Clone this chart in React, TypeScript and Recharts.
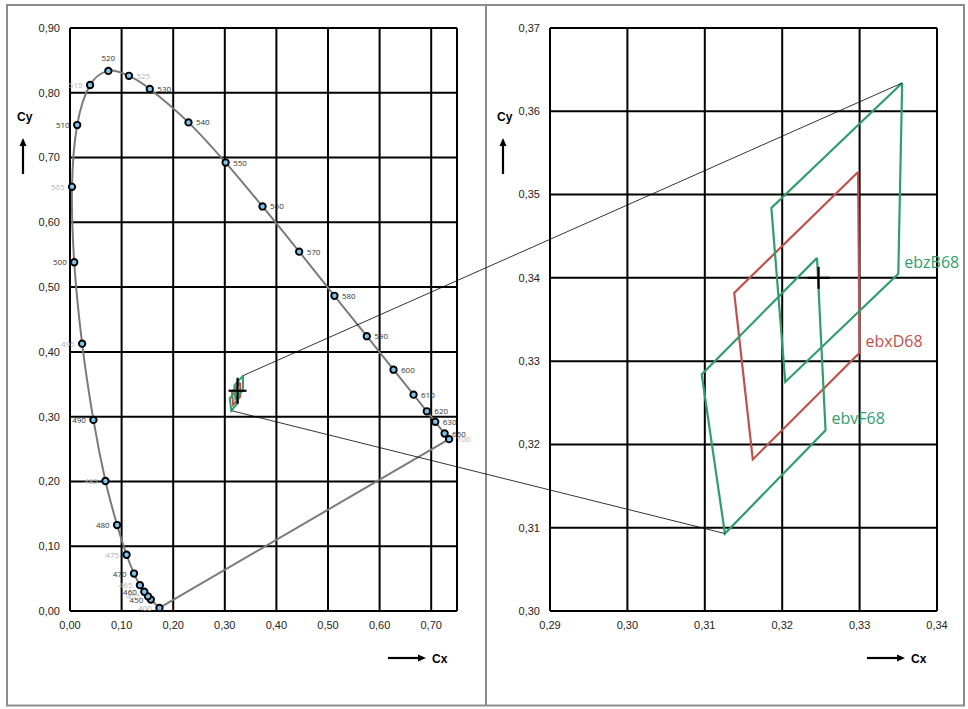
import React, { useState, useLayoutEffect, useCallback } from 'react';
import { ComposedChart, Line, Scatter, XAxis, YAxis, CartesianGrid } from 'recharts';

// ---------- DATA ----------
const wavelengths = [400, 450, 455, 460, 465, 470, 475, 480, 485, 490, 495, 500, 505, 510, 515, 520, 525, 530, 540, 550, 560, 570, 580, 590, 600, 610, 620, 630, 650, 700];
const locusX = [0.1733, 0.1566, 0.151, 0.144, 0.1355, 0.1241, 0.1096, 0.0913, 0.0687, 0.0454, 0.0235, 0.0082, 0.0039, 0.0139, 0.0389, 0.0743, 0.1142, 0.1547, 0.2296, 0.3016, 0.3731, 0.4441, 0.5125, 0.5752, 0.627, 0.6658, 0.6915, 0.7079, 0.726, 0.7347];
const locusY = [0.0048, 0.0177, 0.0227, 0.0297, 0.0399, 0.0578, 0.0868, 0.1327, 0.2007, 0.295, 0.4127, 0.5384, 0.6548, 0.7502, 0.812, 0.8338, 0.8262, 0.8059, 0.7543, 0.6923, 0.6245, 0.5547, 0.4866, 0.4242, 0.3725, 0.334, 0.3083, 0.292, 0.274, 0.2653];

const leftXTicks = [0, 0.1, 0.2, 0.3, 0.4, 0.5, 0.6, 0.7];
const leftYTicks = [0, 0.1, 0.2, 0.3, 0.4, 0.5, 0.6, 0.7, 0.8, 0.9];
const rightXTicks = [0.29, 0.3, 0.31, 0.32, 0.33, 0.34];
const rightYTicks = [0.3, 0.31, 0.32, 0.33, 0.34, 0.35, 0.36, 0.37];

const ebzB68X = [0.3355, 0.3186, 0.3204, 0.335];
const ebzB68Y = [0.3634, 0.3484, 0.3275, 0.3405];
const ebxD68X = [0.3298, 0.3138, 0.3162, 0.33];
const ebxD68Y = [0.3527, 0.3382, 0.3182, 0.331];
const ebvF68X = [0.3245, 0.3096, 0.3126, 0.3256];
const ebvF68Y = [0.3424, 0.3284, 0.3093, 0.3217];

const crossX = [0.3247];
const crossY = [0.34];

// ---------- derived tables ----------
const locusData = wavelengths.map((wl, i) => ({ wl, x: locusX[i], y: locusY[i] }));
const purpleLine = [locusData[locusData.length - 1], locusData[0]];

const makePoly = (xs: number[], ys: number[]) => {
  const pts = xs.map((x, i) => ({ x, y: ys[i] }));
  return [...pts, pts[0]];
};
const polygons = [
  { name: 'ebxD68', color: '#c0504d', data: makePoly(ebxD68X, ebxD68Y) },
  { name: 'ebzB68', color: '#2f9e6e', data: makePoly(ebzB68X, ebzB68Y) },
  { name: 'ebvF68', color: '#2f9e6e', data: makePoly(ebvF68X, ebvF68Y) },
];
const polyLabels = polygons.map((p) => ({ x: p.data[3].x, y: p.data[3].y, name: p.name, color: p.color }));
const crossData = crossX.map((x, i) => ({ x, y: crossY[i] }));
const anchorData = [
  { id: 0, x: ebzB68X[0], y: ebzB68Y[0] },
  { id: 1, x: ebvF68X[2], y: ebvF68Y[2] },
];

const fmt = (v: number) => v.toFixed(2).replace('.', ',');

// Excel-like smoothed line (uniform Catmull-Rom as cubic Beziers)
function smoothCurve(context: any) {
  let pts: [number, number][] = [];
  return {
    areaStart() {},
    areaEnd() {},
    lineStart() {
      pts = [];
    },
    lineEnd() {
      const n = pts.length;
      if (!n) return;
      context.moveTo(pts[0][0], pts[0][1]);
      const t = 1 / 6;
      for (let i = 0; i < n - 1; i++) {
        const p0 = pts[Math.max(i - 1, 0)];
        const p1 = pts[i];
        const p2 = pts[i + 1];
        const p3 = pts[Math.min(i + 2, n - 1)];
        context.bezierCurveTo(
          p1[0] + (p2[0] - p0[0]) * t,
          p1[1] + (p2[1] - p0[1]) * t,
          p2[0] - (p3[0] - p1[0]) * t,
          p2[1] - (p3[1] - p1[1]) * t,
          p2[0],
          p2[1]
        );
      }
    },
    point(x: number, y: number) {
      pts.push([x, y]);
    },
  };
}

const FONT = '"Liberation Sans", Arial, sans-serif';
const LABEL_FONT = '"Open Sans", "Noto Sans", sans-serif';

function LocusMarker(props: any) {
  const { cx, cy, payload } = props;
  if (cx == null || cy == null) return <g />;
  const wl = payload.wl;
  const gray = wl % 10 === 5 || wl === 400 || wl === 700;
  let tx = cx - 7.5;
  let ty = cy + 3;
  let anchor: any = 'end';
  if (wl === 520) {
    tx = cx;
    ty = cy - 10;
    anchor = 'middle';
  } else if (wl > 520) {
    tx = cx + 7.5;
    anchor = 'start';
  }
  return (
    <g>
      <circle cx={cx} cy={cy} r={3.2} fill="#7cc4ee" stroke="#000" strokeWidth={1.9} />
      <text x={tx} y={ty} textAnchor={anchor} fontSize={8} fontFamily={LABEL_FONT} fill={gray ? '#b4b4b4' : '#333'}>
        {wl}
      </text>
    </g>
  );
}

function makeCross(hx: number, vy: number) {
  return (props: any) => {
    const { cx, cy } = props;
    if (cx == null || cy == null) return <g />;
    return (
      <g stroke="#000" strokeWidth={2.2}>
        <line x1={cx - hx} y1={cy} x2={cx + hx} y2={cy} />
        <line x1={cx} y1={cy - vy} x2={cx} y2={cy + vy} />
      </g>
    );
  };
}

function PolyLabel(props: any) {
  const { cx, cy, payload } = props;
  if (cx == null || cy == null) return <g />;
  return (
    <text x={cx + 6} y={cy - 6} fontSize={16} fontFamily={LABEL_FONT} fill={payload.color}>
      {payload.name}
    </text>
  );
}

function Reporter({ cx, cy, id, report }: any) {
  useLayoutEffect(() => {
    if (cx != null && cy != null) report(id, cx, cy);
  }, [cx, cy, id, report]);
  return <g />;
}

const tickStyle = { fill: '#222', fontSize: 11, fontFamily: FONT };

function Arrow({ x1, y1, x2, y2 }: any) {
  const ang = Math.atan2(y2 - y1, x2 - x1);
  const L = 8;
  const W = 3.5;
  const bx = x2 - L * Math.cos(ang);
  const by = y2 - L * Math.sin(ang);
  const px = -Math.sin(ang) * W;
  const py = Math.cos(ang) * W;
  return (
    <g>
      <line x1={x1} y1={y1} x2={bx} y2={by} stroke="#000" strokeWidth={2.2} />
      <polygon points={`${x2},${y2} ${bx + px},${by + py} ${bx - px},${by - py}`} fill="#000" />
    </g>
  );
}

export default function App() {
  const [pos, setPos] = useState<Record<string, { x: number; y: number }>>({});
  const report = useCallback((id: string, x: number, y: number) => {
    setPos((p) => (p[id] && p[id].x === x && p[id].y === y ? p : { ...p, [id]: { x, y } }));
  }, []);

  const layer: React.CSSProperties = { position: 'absolute', left: 0, top: 0 };

  return (
    <div style={{ position: 'absolute', left: 0, top: 0, width: 968, height: 709, background: '#fff', fontFamily: FONT }}>
      {/* Left panel */}
      <div style={layer}>
        <ComposedChart width={968} height={709} margin={{ top: 28, right: 511, bottom: 68, left: 20 }}>
          <CartesianGrid stroke="#000" strokeWidth={2} />
          <XAxis type="number" dataKey="x" domain={[0, 0.75]} ticks={leftXTicks} interval={0} tickFormatter={fmt} axisLine={false} tickLine={false} tickSize={0} tickMargin={10} height={30} tick={tickStyle} />
          <YAxis type="number" dataKey="y" domain={[0, 0.9]} ticks={leftYTicks} interval={0} tickFormatter={fmt} axisLine={false} tickLine={false} tickSize={0} tickMargin={10} width={50} tick={tickStyle} />
          <Line data={locusData} dataKey="y" type={smoothCurve as any} stroke="#7a7a7a" strokeWidth={2} dot={false} activeDot={false} isAnimationActive={false} />
          <Line data={purpleLine} dataKey="y" type="linear" stroke="#7a7a7a" strokeWidth={2} dot={false} activeDot={false} isAnimationActive={false} />
          {polygons.map((p) => (
            <Line key={'L' + p.name} data={p.data} dataKey="y" type="linear" stroke={p.color} strokeWidth={2} dot={false} activeDot={false} isAnimationActive={false} />
          ))}
          <Scatter data={locusData} dataKey="y" shape={(pr: any) => <LocusMarker {...pr} />} isAnimationActive={false} />
          <Scatter data={crossData} dataKey="y" shape={makeCross(9, 13)} isAnimationActive={false} />
          <Scatter data={anchorData} dataKey="y" shape={(pr: any) => <Reporter cx={pr.cx} cy={pr.cy} id={'L' + pr.payload.id} report={report} />} isAnimationActive={false} />
        </ComposedChart>
      </div>
      {/* Right panel */}
      <div style={layer}>
        <ComposedChart width={968} height={709} margin={{ top: 28, right: 31, bottom: 68, left: 500 }}>
          <CartesianGrid stroke="#000" strokeWidth={2} />
          <XAxis type="number" dataKey="x" domain={[0.29, 0.34]} ticks={rightXTicks} interval={0} tickFormatter={fmt} axisLine={false} tickLine={false} tickSize={0} tickMargin={10} height={30} tick={tickStyle} />
          <YAxis type="number" dataKey="y" domain={[0.3, 0.37]} ticks={rightYTicks} interval={0} tickFormatter={fmt} axisLine={false} tickLine={false} tickSize={0} tickMargin={10} width={50} tick={tickStyle} />
          {polygons.map((p) => (
            <Line key={'R' + p.name} data={p.data} dataKey="y" type="linear" stroke={p.color} strokeWidth={2.2} dot={false} activeDot={false} isAnimationActive={false} />
          ))}
          <Scatter data={crossData} dataKey="y" shape={makeCross(11, 11)} isAnimationActive={false} />
          <Scatter data={polyLabels} dataKey="y" shape={(pr: any) => <PolyLabel {...pr} />} isAnimationActive={false} />
          <Scatter data={anchorData} dataKey="y" shape={(pr: any) => <Reporter cx={pr.cx} cy={pr.cy} id={'R' + pr.payload.id} report={report} />} isAnimationActive={false} />
        </ComposedChart>
      </div>
      {/* Overlay: frame, zoom connectors, axis titles */}
      <svg width={968} height={709} style={{ ...layer, pointerEvents: 'none' }}>
        <rect x={7} y={5} width={957} height={700.5} fill="none" stroke="#8c8c8c" strokeWidth={2} />
        <line x1={486} y1={5} x2={486} y2={705.5} stroke="#8c8c8c" strokeWidth={2} />
        {[0, 1].map((i) =>
          pos['L' + i] && pos['R' + i] ? (
            <line key={i} x1={pos['L' + i].x} y1={pos['L' + i].y} x2={pos['R' + i].x} y2={pos['R' + i].y} stroke="#000" strokeWidth={0.8} />
          ) : null
        )}
        <text x={17} y={121} fontSize={12} fontWeight="bold" fontFamily={FONT} fill="#000">Cy</text>
        <Arrow x1={23} y1={174} x2={23} y2={138} />
        <text x={497} y={121} fontSize={12} fontWeight="bold" fontFamily={FONT} fill="#000">Cy</text>
        <Arrow x1={503} y1={174} x2={503} y2={138} />
        <Arrow x1={388} y1={658} x2={426} y2={658} />
        <text x={432} y={662.5} fontSize={12} fontWeight="bold" fontFamily={FONT} fill="#000">Cx</text>
        <Arrow x1={867} y1={658} x2={905} y2={658} />
        <text x={911} y={662.5} fontSize={12} fontWeight="bold" fontFamily={FONT} fill="#000">Cx</text>
      </svg>
    </div>
  );
}
